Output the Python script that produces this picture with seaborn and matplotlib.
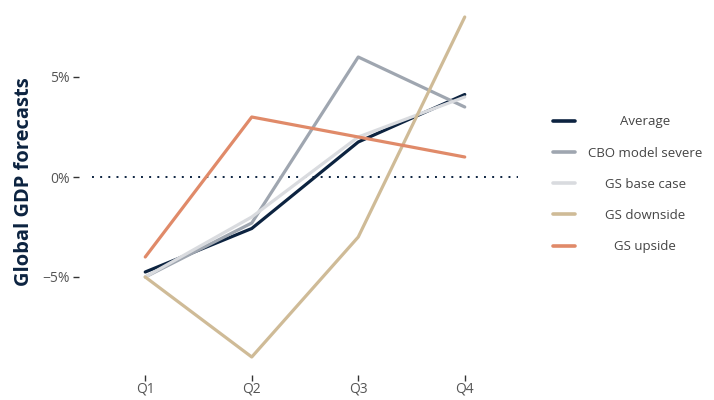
import matplotlib
matplotlib.use("Agg")
import matplotlib.pyplot as plt
import matplotlib.transforms as mtransforms
import numpy as np
import pandas as pd
import seaborn as sns

quarters = ["Q1", "Q2", "Q3", "Q4"]
cbo_severe = [-5.0, -2.3, 6.0, 3.5]
gs_base = [-5.0, -2.0, 2.0, 4.0]
gs_downside = [-5.0, -9.0, -3.0, 8.0]
gs_upside = [-4.0, 3.0, 2.0, 1.0]
average = list(np.mean([cbo_severe, gs_base, gs_downside, gs_upside], axis=0))

series_names = ["Average", "CBO model severe", "GS base case", "GS downside", "GS upside"]
series_values = [average, cbo_severe, gs_base, gs_downside, gs_upside]
colors = ["#0c2340", "#9fa6b0", "#d9dbdf", "#cfbb97", "#e08a69"]

y_ticks = [-5, 0, 5]
y_tick_labels = ["\u22125%", "0%", "5%"]

df = pd.DataFrame(
    [(q, name, v) for name, vals in zip(series_names, series_values)
     for q, v in zip(quarters, vals)],
    columns=["quarter", "series", "value"],
)

sns.set_theme(style="white")
plt.rcParams["font.family"] = ["Open Sans", "DejaVu Sans"]

fig = plt.figure(figsize=(7.14, 4.0), dpi=100)
ax = fig.add_axes([92 / 714, 35 / 400, 426 / 714, 356 / 400])

sns.lineplot(
    data=df, x="quarter", y="value", hue="series",
    hue_order=series_names, palette=colors,
    linewidth=2.3, ax=ax, legend=False,
)

ax.axhline(0, color="#0c2340", linewidth=1.4, linestyle=(0, (1, 3.2)), zorder=0)

ax.set_xlim(-0.5, 3.5)
ax.set_ylim(-9.4, 8.4)
ax.set_yticks(y_ticks)
ax.set_yticklabels(y_tick_labels)
ax.set_xlabel("")
ax.set_ylabel("Global GDP forecasts", fontsize=14.5, fontweight="bold",
              color="#0c2340")
ax.yaxis.set_label_coords(-0.137, 0.514)

for side in ["top", "right"]:
    ax.spines[side].set_visible(False)
for side in ["left", "bottom"]:
    ax.spines[side].set_position(("outward", 7))
    ax.spines[side].set_visible(False)
ax.spines["left"].set_position(("outward", 9))

ax.tick_params(axis="both", which="major", length=4.0, width=1.0,
               color="#333333", labelsize=10, labelcolor="#555555",
               left=True, bottom=True, pad=3)
ax.tick_params(axis="x", pad=1)

handles = [plt.Line2D([], [], color=c, linewidth=2.6) for c in colors]
leg = fig.legend(
    handles, series_names, loc="center left",
    bbox_to_anchor=(553 / 714, 0.539), frameon=False,
    fontsize=9.5, handlelength=1.7, handletextpad=0.95,
    labelspacing=1.38, borderpad=0, borderaxespad=0,
)
for t in leg.get_texts():
    t.set_color("#444444")

# center legend labels within their column
fig.canvas.draw()
renderer = fig.canvas.get_renderer()
texts = leg.get_texts()
widths = [t.get_window_extent(renderer).width for t in texts]
max_w = max(widths)
for t, w in zip(texts, widths):
    t.set_transform(t.get_transform() +
                    mtransforms.Affine2D().translate((max_w - w) / 2, 0))

fig.savefig("out.png", dpi=100)
